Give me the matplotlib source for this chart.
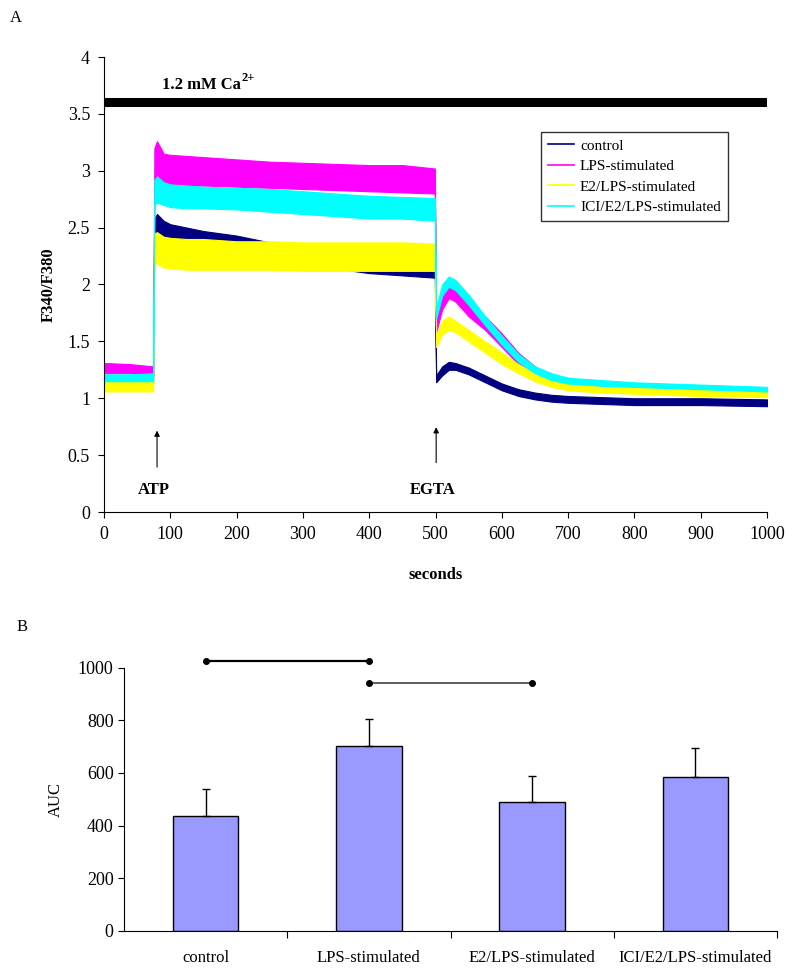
import matplotlib
matplotlib.use("Agg")
import matplotlib.pyplot as plt
from matplotlib.lines import Line2D

plt.rcParams['font.family'] = ['Liberation Serif', 'DejaVu Serif']

# ---------------- Panel A data (noisy traces as lower/upper envelopes) ----------------
time_s = [0, 40, 74, 76, 80, 90, 100, 125, 150, 200, 250, 300, 350, 400, 450, 499,
          501, 510, 520, 530, 550, 575, 600, 625, 650, 675, 700, 750, 800, 900, 1000]

control_lo = [1.13, 1.13, 1.13, 2.42, 2.45, 2.40, 2.37, 2.35, 2.33, 2.29, 2.23, 2.18, 2.14, 2.10, 2.08, 2.06,
              1.14, 1.20, 1.25, 1.25, 1.21, 1.14, 1.07, 1.02, 0.99, 0.97, 0.96, 0.95, 0.94, 0.94, 0.93]
control_hi = [1.19, 1.18, 1.19, 2.58, 2.62, 2.56, 2.53, 2.50, 2.47, 2.43, 2.37, 2.31, 2.26, 2.22, 2.19, 2.18,
              1.20, 1.28, 1.32, 1.31, 1.27, 1.20, 1.13, 1.08, 1.05, 1.03, 1.02, 1.01, 1.00, 1.00, 0.99]

lps_lo = [1.22, 1.22, 1.20, 2.85, 2.90, 2.88, 2.88, 2.87, 2.87, 2.86, 2.85, 2.84, 2.83, 2.82, 2.81, 2.80,
          1.58, 1.78, 1.88, 1.85, 1.72, 1.60, 1.45, 1.30, 1.20, 1.14, 1.11, 1.09, 1.08, 1.06, 1.04]
lps_hi = [1.31, 1.30, 1.28, 3.20, 3.26, 3.15, 3.14, 3.13, 3.12, 3.10, 3.08, 3.07, 3.06, 3.05, 3.05, 3.02,
          1.68, 1.90, 1.99, 1.95, 1.82, 1.72, 1.57, 1.40, 1.28, 1.20, 1.17, 1.14, 1.13, 1.11, 1.09]

e2_lo = [1.06, 1.06, 1.06, 2.20, 2.18, 2.15, 2.14, 2.13, 2.13, 2.13, 2.13, 2.12, 2.12, 2.12, 2.12, 2.12,
         1.45, 1.56, 1.60, 1.58, 1.50, 1.40, 1.30, 1.22, 1.15, 1.10, 1.07, 1.05, 1.04, 1.02, 1.01]
e2_hi = [1.15, 1.15, 1.15, 2.45, 2.46, 2.42, 2.41, 2.40, 2.40, 2.38, 2.38, 2.37, 2.37, 2.37, 2.37, 2.36,
         1.55, 1.68, 1.72, 1.68, 1.60, 1.50, 1.40, 1.30, 1.22, 1.16, 1.13, 1.11, 1.10, 1.08, 1.07]

ici_lo = [1.15, 1.15, 1.15, 2.70, 2.72, 2.70, 2.68, 2.67, 2.67, 2.66, 2.64, 2.62, 2.60, 2.58, 2.58, 2.56,
          1.70, 1.90, 1.98, 1.95, 1.82, 1.64, 1.47, 1.32, 1.22, 1.16, 1.13, 1.11, 1.10, 1.08, 1.06]
ici_hi = [1.21, 1.21, 1.22, 2.92, 2.95, 2.90, 2.88, 2.87, 2.86, 2.85, 2.84, 2.82, 2.80, 2.78, 2.77, 2.76,
          1.80, 2.00, 2.07, 2.04, 1.91, 1.72, 1.55, 1.39, 1.28, 1.22, 1.18, 1.16, 1.14, 1.12, 1.10]

series_names = ["control", "LPS-stimulated", "E2/LPS-stimulated", "ICI/E2/LPS-stimulated"]
series_colors = ["#000080", "#FF00FF", "#FFFF00", "#00FFFF"]

# ---------------- Panel B data ----------------
groups = ["control", "LPS-stimulated", "E2/LPS-stimulated", "ICI/E2/LPS-stimulated"]
auc_mean = [436, 701, 488, 586]
auc_err = [103, 104, 99, 110]
sig_pairs = [(0, 1, 1027), (1, 2, 942)]

fig = plt.figure(figsize=(7.96, 9.8), dpi=100)

# ---------------- Panel A ----------------
axA = fig.add_axes([104/796, 1-512/980, 663/796, 455/980])
envs = [(control_lo, control_hi), (lps_lo, lps_hi), (e2_lo, e2_hi), (ici_lo, ici_hi)]
for (lo, hi), c in zip(envs, series_colors):
    axA.fill_between(time_s, lo, hi, color=c, linewidth=0.8, edgecolor=c)

axA.set_xlim(0, 1000)
axA.set_ylim(0, 4)
axA.set_xticks(range(0, 1001, 100))
axA.set_yticks([0, 0.5, 1, 1.5, 2, 2.5, 3, 3.5, 4])
axA.set_yticklabels(["0", "0.5", "1", "1.5", "2", "2.5", "3", "3.5", "4"])
for s in ["top", "right"]:
    axA.spines[s].set_visible(False)
axA.tick_params(direction="out", length=4, labelsize=13, pad=6)
axA.set_xlabel("seconds", fontsize=12, fontweight="bold", labelpad=17)
axA.set_ylabel("F340/F380", fontsize=12, fontweight="bold", labelpad=8)

axA.hlines(3.6, 0, 1000, color="black", linewidth=6.5, capstyle="butt")
t_ca = axA.text(88, 3.75, "1.2 mM Ca", fontsize=12, fontweight="bold", va="center", ha="left")
axA.annotate("2+", xy=(1.0, 0.6), xycoords=t_ca, fontsize=9, fontweight="bold",
             va="bottom", ha="left")

for x, tip, tail, label in [(80, 0.74, 0.37, "ATP"), (501, 0.77, 0.41, "EGTA")]:
    axA.annotate("", xy=(x, tip), xytext=(x, tail),
                 arrowprops=dict(arrowstyle="-|>", color="black", lw=0.8, mutation_scale=8))
    axA.text(x - 5, 0.19, label, fontsize=12, fontweight="bold", ha="center", va="center")

handles = [Line2D([0], [0], color=c, lw=1.2) for c in series_colors]
leg = axA.legend(handles, series_names, loc="upper left",
                 bbox_to_anchor=(541/796, 1-132/980), bbox_transform=fig.transFigure,
                 fontsize=11, frameon=True, fancybox=False, borderaxespad=0,
                 handlelength=1.7, handletextpad=0.4, labelspacing=0.45, borderpad=0.45)
leg.get_frame().set_edgecolor("black")
leg.get_frame().set_linewidth(1.0)

fig.text(10/796, 1-18/980, "A", fontsize=12, va="center", ha="left")

# ---------------- Panel B ----------------
axB = fig.add_axes([124/796, 1-930.7/980, 653/796, 263/980])
xpos = list(range(len(groups)))
axB.bar(xpos, auc_mean, width=0.4, color="#9999FF", edgecolor="black", linewidth=1.0, zorder=2)
axB.errorbar(xpos, auc_mean, yerr=[[0]*len(groups), auc_err], fmt="none",
             ecolor="black", elinewidth=1.0, capsize=3, capthick=1.0, zorder=3)
axB.set_xlim(-0.5, 3.5)
axB.set_ylim(0, 1000)
axB.set_yticks(range(0, 1001, 200))
axB.set_xticks([0.5, 1.5, 2.5, 3.5])
axB.set_xticklabels([])
axB.set_xticks(xpos, minor=True)
axB.set_xticklabels(groups, minor=True)
axB.tick_params(axis="x", which="minor", length=0, labelsize=12, pad=14)
axB.tick_params(axis="x", which="major", direction="out", length=5)
axB.tick_params(axis="y", direction="out", length=4, labelsize=13)
for s in ["top", "right"]:
    axB.spines[s].set_visible(False)
axB.set_ylabel("AUC", fontsize=12, labelpad=10)

for (i, j, y), col, lw in zip(sig_pairs, ["black", "#444444"], [1.6, 1.2]):
    axB.plot([i, j], [y, y], color=col, linewidth=lw, marker="o", markersize=4,
             markerfacecolor="black", markeredgecolor="black", clip_on=False)

fig.text(17/796, 1-627/980, "B", fontsize=12, va="center", ha="left")

fig.savefig("out.png", dpi=100)
